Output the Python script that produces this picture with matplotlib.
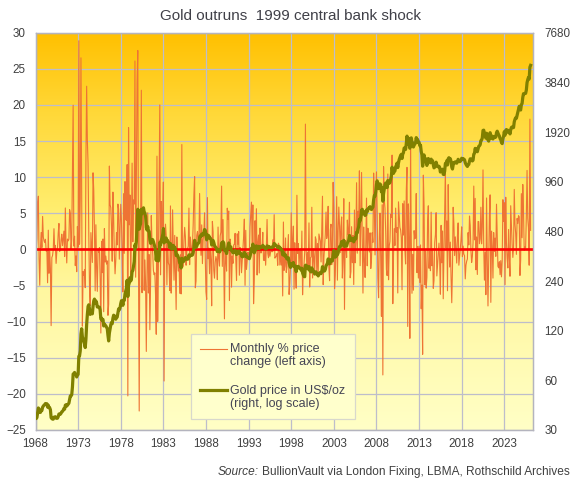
import numpy as np
import matplotlib
matplotlib.use("Agg")
import matplotlib.pyplot as plt
from matplotlib.colors import LinearSegmentedColormap
from matplotlib.ticker import NullLocator
from matplotlib.legend_handler import HandlerLine2D

plt.rcParams['font.family'] = ['Liberation Sans', 'DejaVu Sans']

# Gold, US$/oz, month-end, Jan 1968 onwards
price_1968_79 = [
    35.2, 35.2, 35.7, 38.0, 40.8, 40.3, 38.3, 38.4, 39.3, 39.4, 41.2, 41.9,
    42.4, 42.8, 43.4, 43.3, 43.3, 41.3, 42.4, 41.0, 40.9, 39.8, 35.6, 35.2,
    34.9, 34.9, 35.9, 35.9, 36.1, 35.4, 35.3, 35.4, 36.2, 37.5, 37.4, 37.4,
    37.9, 38.7, 38.9, 39.5, 40.5, 40.1, 42.4, 42.7, 41.9, 42.5, 43.0, 43.6,
    46.0, 48.3, 48.3, 49.0, 54.6, 65.5, 65.8, 67.0, 65.5, 64.9, 62.9, 64.9,
    65.1, 83.9, 84.5, 90.5, 114.5, 123.3, 110.2, 106.8, 103.0, 100.1, 94.8, 106.7,
    130.8, 150.5, 168.4, 172.2, 163.3, 150.6, 154.1, 154.6, 151.8, 167.9, 181.7, 186.5,
    175.8, 181.8, 177.3, 167.0, 167.0, 166.3, 166.7, 159.8, 141.3, 142.9, 138.3, 140.3,
    128.2, 131.9, 129.6, 128.4, 125.8, 123.8, 112.5, 104.0, 116.0, 123.2, 130.3, 134.5,
    132.3, 142.8, 148.9, 148.0, 143.0, 140.8, 144.1, 145.0, 154.1, 162.7, 160.5, 165.0,
    175.3, 182.3, 181.6, 170.9, 184.1, 183.1, 200.3, 208.7, 217.1, 242.6, 193.4, 226.0,
    233.7, 251.3, 240.1, 245.3, 274.6, 277.5, 296.5, 315.1, 397.3, 382.0, 415.7, 512.0,
]
price_1980s = [
    653.0, 637.0, 494.5, 518.0, 535.5, 653.5, 614.3, 631.3, 666.8, 629.0, 619.8, 589.8,
    506.5, 489.0, 513.8, 482.8, 479.3, 426.0, 406.0, 425.0, 428.8, 427.0, 414.5, 400.0,
    387.0, 362.6, 320.0, 361.3, 325.3, 317.5, 342.9, 411.5, 397.0, 423.3, 436.0, 456.9,
    499.5, 408.5, 414.8, 429.3, 437.5, 416.0, 422.0, 414.3, 405.0, 382.0, 405.0, 380.5,
    373.8, 394.3, 394.3, 377.5, 384.8, 373.5, 342.4, 348.3, 343.8, 333.5, 329.0, 309.0,
    306.7, 287.8, 329.6, 321.4, 314.0, 317.8, 327.5, 333.3, 326.0, 325.1, 325.3, 326.8,
    345.5, 338.2, 344.0, 345.8, 343.2, 345.5, 357.5, 384.7, 423.5, 401.0, 383.5, 390.9,
    400.5, 405.9, 409.3, 441.0, 451.0, 447.3, 462.5, 453.4, 459.5, 468.8, 492.5, 486.5,
    458.0, 426.3, 456.9, 451.0, 451.8, 436.6, 437.1, 430.6, 397.0, 412.4, 422.6, 410.3,
    394.0, 387.0, 383.2, 377.6, 361.8, 373.0, 368.3, 359.8, 366.5, 375.3, 408.2, 398.6,
]
price_1990s = [
    415.1, 407.7, 368.5, 367.8, 363.1, 352.2, 372.3, 387.8, 408.4, 379.5, 384.9, 386.2,
    366.0, 362.7, 355.7, 357.9, 360.4, 368.4, 362.9, 347.4, 354.9, 357.5, 366.3, 353.2,
    354.1, 353.1, 341.7, 336.4, 337.5, 343.4, 357.8, 340.0, 349.0, 339.3, 334.2, 332.9,
    330.5, 327.6, 337.8, 354.3, 377.5, 378.5, 401.8, 371.6, 355.5, 369.6, 370.9, 391.8,
    377.9, 381.6, 389.2, 376.5, 387.6, 385.8, 384.0, 385.8, 394.9, 389.1, 383.1, 383.3,
    374.9, 376.4, 392.0, 389.8, 385.3, 387.1, 383.4, 382.4, 384.0, 382.7, 387.8, 387.0,
    405.6, 400.7, 396.4, 392.9, 390.6, 382.0, 385.3, 387.4, 379.0, 379.5, 371.3, 369.3,
    345.5, 358.6, 348.2, 340.2, 345.6, 334.6, 326.4, 325.4, 332.1, 311.4, 296.8, 290.2,
    304.9, 297.4, 301.0, 310.7, 293.6, 296.3, 288.9, 273.4, 293.9, 292.3, 294.7, 287.8,
    287.1, 287.3, 279.5, 286.6, 268.6, 261.3, 255.6, 254.8, 299.0, 299.1, 291.4, 290.3,
]
price_2000s = [
    283.3, 293.7, 278.4, 275.1, 272.3, 288.2, 276.8, 277.0, 273.7, 264.5, 269.1, 272.7,
    264.5, 266.7, 257.7, 263.2, 267.5, 270.6, 265.9, 273.0, 293.1, 278.8, 275.5, 276.5,
    282.3, 296.9, 301.4, 308.2, 326.6, 318.5, 304.7, 312.8, 323.7, 316.9, 317.7, 347.2,
    367.5, 347.5, 334.9, 336.8, 361.4, 346.0, 354.8, 375.6, 388.0, 386.3, 398.4, 416.3,
    399.8, 395.9, 423.7, 388.5, 393.3, 395.8, 391.4, 407.3, 415.7, 425.6, 453.4, 435.6,
    422.2, 435.5, 427.5, 435.7, 414.5, 437.1, 429.0, 433.3, 473.3, 470.8, 495.7, 513.0,
    568.8, 556.0, 582.0, 644.0, 653.0, 613.5, 632.5, 623.5, 599.3, 603.8, 646.7, 632.0,
    650.5, 664.2, 661.8, 677.0, 659.1, 650.5, 665.5, 672.0, 743.0, 789.5, 783.5, 833.8,
    923.3, 971.5, 933.5, 871.0, 885.8, 930.3, 918.0, 833.0, 884.5, 730.8, 814.5, 869.8,
    919.5, 942.5, 916.5, 883.3, 975.5, 934.5, 939.0, 949.5, 995.8, 1040.0, 1175.8, 1087.5,
]
price_2010s = [
    1078.5, 1109.5, 1115.5, 1179.3, 1207.5, 1244.0, 1169.0, 1246.0, 1307.0, 1346.8, 1383.5, 1405.5,
    1327.0, 1411.0, 1439.0, 1535.5, 1536.5, 1505.5, 1628.5, 1813.5, 1620.0, 1722.0, 1746.0, 1531.0,
    1744.0, 1770.0, 1662.5, 1651.3, 1558.0, 1598.5, 1622.0, 1648.5, 1776.0, 1719.0, 1726.0, 1657.5,
    1664.8, 1588.5, 1598.3, 1467.0, 1394.5, 1192.0, 1314.5, 1394.8, 1326.5, 1324.0, 1253.0, 1204.5,
    1251.0, 1326.5, 1291.8, 1288.5, 1250.5, 1315.0, 1285.3, 1285.8, 1216.5, 1164.3, 1175.5, 1199.3,
    1260.3, 1214.0, 1187.0, 1180.3, 1190.6, 1171.0, 1098.4, 1135.0, 1114.0, 1142.4, 1064.3, 1060.3,
    1111.8, 1234.9, 1237.0, 1285.7, 1212.1, 1320.8, 1342.0, 1309.3, 1322.5, 1272.0, 1178.1, 1145.9,
    1212.8, 1255.6, 1244.9, 1266.5, 1266.2, 1242.3, 1265.4, 1311.8, 1283.1, 1270.2, 1274.8, 1291.0,
    1331.3, 1317.9, 1323.9, 1315.1, 1303.7, 1250.5, 1223.3, 1203.3, 1187.3, 1214.9, 1222.5, 1279.0,
    1321.0, 1319.2, 1295.4, 1282.6, 1295.4, 1409.0, 1427.6, 1528.4, 1485.3, 1510.9, 1458.5, 1514.8,
]
price_2020s = [
    1573.2, 1585.7, 1608.9, 1702.8, 1715.9, 1768.1, 1962.8, 1970.8, 1886.9, 1879.9, 1762.1, 1887.6,
    1863.1, 1717.3, 1691.0, 1769.1, 1902.7, 1763.2, 1807.8, 1814.9, 1742.8, 1783.4, 1778.1, 1805.9,
    1788.5, 1900.5, 1942.2, 1896.9, 1848.5, 1817.0, 1753.4, 1726.2, 1660.6, 1633.6, 1746.0, 1813.8,
    1930.9, 1836.7, 1969.3, 1987.3, 1962.7, 1912.3, 1965.1, 1942.3, 1870.1, 1983.2, 2047.2, 2062.4,
    2039.5, 2044.6, 2214.4, 2291.8, 2342.9, 2326.8, 2426.5, 2513.6, 2630.9, 2749.6, 2650.4, 2610.9,
    2812.5, 2858.0, 3115.0, 3281.0, 3277.0, 3288.0, 3294.0, 3448.0, 3825.0, 3990.0, 4110.0, 4020.0,
    4745.0, 4870.0,
]
start_year = 1968

left_ticks = [-25, -20, -15, -10, -5, 0, 5, 10, 15, 20, 25, 30]
right_ticks = [30, 60, 120, 240, 480, 960, 1920, 3840, 7680]
year_ticks = list(range(1968, 2024, 5))

price = np.array(price_1968_79 + price_1980s + price_1990s +
                 price_2000s + price_2010s + price_2020s)
dates = start_year + np.arange(len(price)) / 12.0
# monthly % change, first month has nothing to compare with
pct = 100.0 * (price[1:] / price[:-1] - 1.0)


class TopLineHandler(HandlerLine2D):
    """Legend line drawn level with the first line of a 2-line label."""
    def create_artists(self, legend, orig_handle, xdescent, ydescent,
                       width, height, fontsize, trans):
        return super().create_artists(legend, orig_handle, xdescent,
                                      ydescent - 1.1 * fontsize, width, height,
                                      fontsize, trans)


W, H = 578, 482
fig = plt.figure(figsize=(W / 100, H / 100), dpi=100)
ax = fig.add_axes([35.5 / W, 1 - 430 / H, (533.3 - 35.5) / W, (430 - 32.7) / H])
ax.patch.set_visible(False)

# background: gold at the top fading to pale yellow
grad_cmap = LinearSegmentedColormap.from_list(
    "goldfade", [(0.0, "#FFFFC6"), (0.35, "#FFF7A0"), (0.55, "#FFEE70"),
                 (0.8, "#FFD838"), (1.0, "#FFC000")])
ax.imshow(np.linspace(0, 1, 256).reshape(-1, 1), cmap=grad_cmap, origin="lower",
          extent=[0, 1, 0, 1], transform=ax.transAxes, aspect="auto", zorder=0)

grid_col = "#BDBDCB"
ax.set_axisbelow(True)
ax.grid(True, color=grid_col, lw=0.9)

l_pct, = ax.plot(dates[1:], pct, color="#EE7434", lw=0.8, zorder=2,
                 label="Monthly % price\nchange (left axis)")
ax.axhline(0, color="#FF0000", lw=1.9, zorder=3)

ax.set_xlim(start_year, 2026.4)
ax.set_ylim(-25, 30)
ax.set_xticks(year_ticks)
ax.set_yticks(left_ticks)

ax2 = ax.twinx()
l_gold, = ax2.plot(dates, price, color="#808000", lw=2.3, zorder=4,
                   label="Gold price in US$/oz\n(right, log scale)")
ax2.set_yscale("log", base=2)
ax2.set_ylim(30, 7680)
ax2.set_yticks(right_ticks)
ax2.set_yticklabels([str(v) for v in right_ticks])
ax2.yaxis.set_minor_locator(NullLocator())

tick_col = "#404040"
for a in (ax, ax2):
    for s in a.spines.values():
        s.set_color("#B4B4BE")
        s.set_linewidth(0.9)
ax.tick_params(axis="both", length=0, labelsize=8.4, colors=tick_col)
ax.tick_params(axis="y", pad=7)
ax.tick_params(axis="x", pad=6)
ax2.tick_params(axis="y", length=0, labelsize=8.4, colors=tick_col, pad=8)

leg = ax2.legend(handles=[l_pct, l_gold], loc="upper left",
                 bbox_to_anchor=(191 / W, 1 - 334 / H), bbox_transform=fig.transFigure,
                 fontsize=9, frameon=True, fancybox=False, framealpha=1,
                 facecolor="#FFFFCC", edgecolor="#D8D8CC", borderpad=0.75,
                 handlelength=2.1, handletextpad=0.3, labelspacing=1.3,
                 borderaxespad=0,
                 handler_map={l_pct: TopLineHandler(), l_gold: TopLineHandler()})
for t in leg.get_texts():
    t.set_color("#454555")
    t.set_linespacing(1.12)
leg.get_frame().set_linewidth(0.9)

fig.text(0.503, 1 - 16 / H, "Gold outruns  1999 central bank shock",
         ha="center", va="center", fontsize=11, color="#404048")

src = fig.text(570 / W, 1 - 472 / H, "BullionVault via London Fixing, LBMA, Rothschild Archives",
               ha="right", va="center", fontsize=8.6, color=tick_col)
fig.canvas.draw()
bb = src.get_window_extent()
fig.text((bb.x0 - 4) / W, 1 - 472 / H, "Source:", ha="right", va="center",
         fontsize=8.6, style="italic", color=tick_col)

fig.savefig("out.png", dpi=100)
